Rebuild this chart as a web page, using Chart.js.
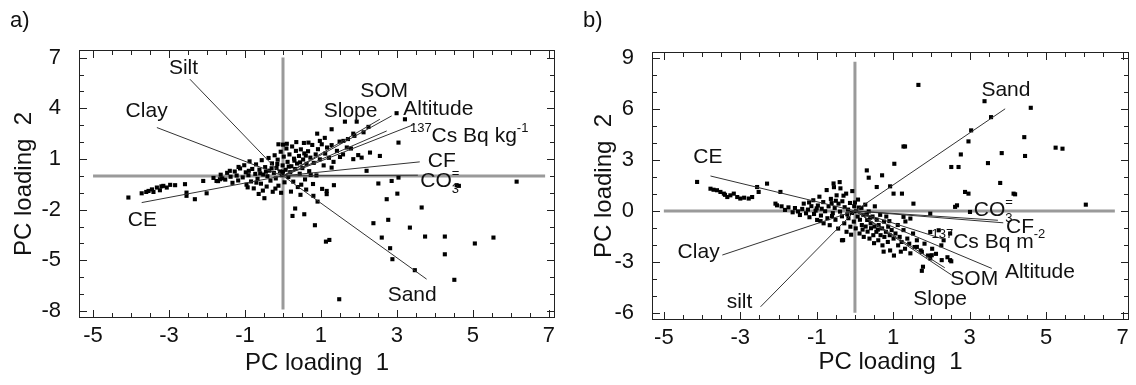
<!DOCTYPE html>
<html>
<head>
<meta charset="utf-8">
<script src="https://cdn.jsdelivr.net/npm/chart.js@4.4.0/dist/chart.umd.min.js"></script>
<style>
  body { margin: 0; background: #fff; }
  #wrap { position: relative; width: 1136px; height: 385px; }
  .panel { position: absolute; top: 0; width: 568px; height: 385px; }
  .tag { position: absolute; top: 7px; font: 22px "Liberation Sans", Arial, sans-serif; color: #111; }
</style>
</head>
<body>
<div id="wrap">
  <div class="panel" style="left:0"><canvas id="chartA" width="568" height="385"></canvas></div>
  <div class="panel" style="left:568px"><canvas id="chartB" width="568" height="385"></canvas></div>
  <div class="tag" style="left:10px">a)</div>
  <div class="tag" style="left:583px">b)</div>
</div>
<script>
// tick labels
const xTicks = [-5, -3, -1, 1, 3, 5, 7];
const yTicksA = [7, 4, 1, -2, -5, -8];
const yTicksB = [9, 6, 3, 0, -3, -6];

// variable names and loading vectors (tips), panel a / b
const variablesA = ["Silt", "Clay", "CE", "Sand", "CO3=", "CF", "137Cs Bq kg-1", "Altitude", "SOM", "Slope"];
const loadingsA = [[-2.45, 5.72], [-3.32, 2.86], [-3.72, -1.58], [3.78, -6.11], [3.55, 0.04], [3.6, 0.83], [3.47, 3.06], [2.86, 3.55], [2.73, 2.66], [2.55, 3.35]];
const labelAtA = [[-2.62, 6.37], [-3.59, 3.85], [-3.7, -2.6], [3.4, -7.04], [4.13, -0.3], [4.18, 0.86], [4.9, 2.37], [4.09, 3.95], [2.66, 5.03], [1.78, 3.85]];

const variablesB = ["Sand", "CE", "Clay", "silt", "CO3=", "CF", "137Cs Bq m-2", "Altitude", "SOM", "Slope"];
const loadingsB = [[3.93, 6.02], [-3.78, 2.06], [-3.47, -2.6], [-2.47, -5.65], [3.74, -0.55], [3.88, -0.7], [2.27, -1.63], [3.58, -3.39], [2.53, -3.78], [2.35, -3.35]];
const labelAtB = [[3.95, 7.1], [-3.85, 3.18], [-4.09, -2.41], [-3.02, -5.39], [3.62, 0.04], [4.32, -0.94], [3.49, -1.82], [4.84, -3.63], [3.12, -4.02], [2.23, -5.2]];

// zero reference lines [from, to]
const hLineA = [-5, 6.9], vLineA = [7, -7.9];
const hLineB = [-5, 6.8], vLineB = [8.8, -6];

// PC scores, panel a
const scoresA = [
  [-4.07, -1.28], [-3.72, -1.03], [-3.54, -0.89], [-3.32, -0.69], [-3.15, -0.59], [-2.97, -0.53], [-2.84, -0.55],
  [-3.24, -0.85], [-3.41, -0.95], [-3.06, -0.69], [-3.6, -0.95], [-3.45, -0.8], [-3.2, -0.62], [-2.58, -0.49],
  [-2.54, -0.99], [-2.54, -1.18], [-2.32, -1.38], [-2.01, -1.03], [-2.1, -0.3], [-1.75, -0.3], [-1.66, -0.2],
  [-0.12, 1.87], [0.67, 1.97], [0.97, 2.07], [1.28, 2.76], [1.63, 3.21], [1.94, 3.21], [1.85, 2.5], [2.25, 2.9],
  [2.99, 3.71], [3.21, 3.35], [3.04, 1.97], [2.29, 1.38], [2.55, 1.18], [1.59, 2.07], [1.68, 1.68], [1.5, 1.12],
  [1.85, 0.99], [2.07, 1.08], [2.2, 0.3], [1.28, 0.49], [2.51, -0.45], [2.86, -0.3], [3.04, -0.1], [3.01, -1.05],
  [2.73, -1.38], [3.65, -1.87], [3.34, -3.06], [2.77, -2.6], [2.38, -2.8], [2.6, -3.65], [2.82, -4.28], [2.88, -4.93],
  [3.74, -3.59], [4.26, -3.59], [4.26, -4.64], [3.47, -5.58], [4.51, -6.15], [5.05, -4.0], [5.54, -3.65],
  [4.57, -0.55], [4.63, -0.59], [6.15, -0.34], [1.48, -7.3], [1.13, -3.89], [1.22, -3.79], [0.84, -2.92],
  [0.56, -2.27], [0.32, -1.93], [0.25, -2.37], [0.91, -1.52], [0.8, -1.18], [1.15, -1.08], [1.15, -0.89], [1.34, -0.55],
  [-1.83, -0.12], [-1.71, -0.31], [-1.64, 0.07], [-1.52, -0.22], [-1.47, 0.18], [-1.38, -0.05], [-1.33, -0.41],
  [-1.27, 0.26], [-1.22, 0.02], [-1.18, -0.27], [-1.13, 0.44], [-1.06, -0.09], [-1.02, 0.63], [-0.98, 0.21],
  [-0.96, -0.52], [-0.91, 0.04], [-0.88, 0.86], [-0.84, -0.33], [-0.81, 0.41], [-0.77, -0.74], [-0.73, 0.12],
  [-0.71, 0.68], [-0.67, -0.18], [-0.64, -1.07], [-0.62, 0.37], [-0.58, -0.46], [-0.56, 0.93], [-0.52, 0.08],
  [-0.49, -1.32], [-0.47, 0.52], [-0.43, -0.63], [-0.41, -0.02], [-0.38, 1.06], [-0.36, 0.31], [-0.33, -0.28],
  [-0.29, 0.74], [-0.27, -0.94], [-0.24, 0.18], [-0.22, 1.22], [-0.19, -0.15], [-0.17, 0.47], [-0.14, 0.96],
  [-0.12, -0.58], [-0.08, 0.26], [-0.06, 1.43], [-0.03, 0.04], [-0.01, 0.62], [0.02, 1.14], [0.04, -0.38],
  [0.07, 0.36], [0.09, 1.62], [0.12, 0.83], [0.14, -0.07], [0.17, 1.27], [0.19, 0.22], [0.22, 0.57], [0.24, 1.74],
  [0.27, -0.34], [0.29, 1.02], [0.32, 0.41], [0.34, 1.48], [0.37, 0.73], [0.39, -0.66], [0.42, 1.18], [0.44, 0.13],
  [0.47, 1.57], [0.51, 0.46], [0.53, 0.97], [0.56, 1.33], [0.58, -0.21], [0.62, 0.71], [0.66, 1.46], [0.69, 0.28],
  [0.72, 1.08], [0.77, 1.83], [0.81, 0.77], [0.86, 1.27], [0.88, 0.03], [0.92, 1.58], [0.97, 0.98], [1.02, 1.87],
  [1.07, 0.62], [1.11, 1.32], [1.16, 1.68], [1.21, 1.07], [1.28, 1.82], [1.33, 0.83], [1.42, 1.48], [1.49, 2.03],
  [1.58, 1.27], [1.71, 2.18], [1.79, 1.62], [1.88, 2.37], [1.98, 1.23], [2.12, 2.58], [-1.17, 0.53], [-0.53, -0.87],
  [-0.93, -0.68], [0.48, -0.52], [0.21, -0.93], [0.79, -0.48], [0.61, -0.81], [1.03, -0.77], [0.46, -1.12], [0.73, 0.06],
  [-0.9, 0.3], [-0.6, 0.15], [-0.3, 0.45], [0.0, 0.25], [0.3, 0.9], [0.6, 1.2], [-0.45, 0.25], [-0.15, 0.7],
  [0.15, 0.55], [0.45, 0.8], [-1.4, 0.3], [-1.6, -0.15], [-0.7, -0.4], [-0.2, -0.75], [0.1, 1.9], [0.35, 2.0],
  [-0.05, -1.0], [0.55, 1.95], [1.1, 2.25], [0.9, 2.5], [0.0, 1.85]
];

// PC scores, panel b
const scoresB = [
  [1.66, 7.43], [3.39, 6.47], [4.6, 6.08], [3.56, 5.53], [3.04, 4.75], [2.97, 4.1], [4.43, 4.35], [4.45, 3.24],
  [5.25, 3.73], [5.43, 3.67], [3.84, 3.41], [3.48, 2.82], [2.77, 3.33], [2.52, 2.59], [2.71, 2.59], [3.8, 1.65],
  [4.15, 1.02], [4.19, 0.98], [2.88, 1.12], [2.97, 1.02], [2.67, 0.33], [2.62, 0.24], [3.01, -0.06], [6.04, 0.37],
  [1.27, 3.8], [1.31, 3.8], [1.03, 2.78], [0.31, 2.39], [0.36, 1.96], [0.71, 2.1], [0.92, 1.45], [0.57, 1.41],
  [1.01, 1.02], [1.23, 1.02], [1.53, 0.43], [1.97, -0.16], [1.45, -0.45], [1.27, -0.35], [1.97, -1.24], [2.19, -1.14],
  [2.49, -1.33], [2.32, -1.73], [2.49, -2.9], [2.27, -2.9], [1.97, -2.8], [1.75, -2.41], [1.78, -3.29], [1.75, -3.53],
  [2.01, -2.61], [1.62, -2.12], [-0.34, -1.73],
  [-4.13, 1.71], [-3.78, 1.31], [-3.61, 1.22], [-3.43, 1.02], [-3.26, 0.92], [-3.08, 0.82], [-3.34, 0.82], [-3.52, 1.12],
  [-3.17, 1.02], [-2.78, 0.73], [-2.69, 0.82], [-3.0, 0.73], [-2.56, 1.41], [-2.3, 1.61], [-2.52, 1.12], [-1.95, 1.12],
  [-2.08, 0.43], [-2.04, 0.33], [-3.7, 1.25], [-3.4, 0.95], [-2.9, 0.78],
  [-1.92, 0.27], [-1.83, 0.06], [-1.74, 0.21], [-1.63, -0.08], [-1.57, 0.17], [-1.49, -0.03], [-1.44, -0.24],
  [-1.38, 0.12], [-1.34, 0.43], [-1.28, -0.14], [-1.23, 0.08], [-1.19, -0.37], [-1.14, 0.28], [-1.09, 0.63],
  [-1.07, -0.18], [-1.03, 0.02], [-0.99, -0.53], [-0.97, 0.32], [-0.93, 0.84], [-0.89, -0.27], [-0.87, 0.13],
  [-0.83, 0.52], [-0.82, -0.73], [-0.78, -0.02], [-0.74, 1.23], [-0.72, -0.43], [-0.69, 0.27], [-0.66, -0.84],
  [-0.63, 0.71], [-0.58, -0.13], [-0.56, 1.62], [-0.53, 0.18], [-0.51, -0.52], [-0.48, 0.92], [-0.44, -1.04],
  [-0.43, 0.43], [-0.39, -0.04], [-0.38, 1.33], [-0.34, -0.32], [-0.33, 0.57], [-0.28, -0.73], [-0.27, 0.22],
  [-0.23, 1.02], [-0.22, -1.23], [-0.18, 0.08], [-0.17, -0.43], [-0.13, 0.47], [-0.12, -0.93], [-0.08, -0.12],
  [-0.07, 1.17], [-0.03, -0.63], [-0.02, 0.28], [0.02, -1.03], [0.03, -0.02], [0.07, -0.33], [0.08, 0.67],
  [0.12, -1.33], [0.13, -0.52], [0.17, 0.18], [0.18, -0.83], [0.22, -0.23], [0.23, -1.53], [0.27, 0.37],
  [0.28, -0.92], [0.32, -0.53], [0.33, -1.22], [0.36, -0.03], [0.38, -1.63], [0.41, -0.73], [0.42, -1.02],
  [0.46, -0.33], [0.48, -1.43], [0.51, -0.92], [0.52, 0.27], [0.56, -1.23], [0.57, -0.52], [0.61, -1.73],
  [0.62, -0.83], [0.66, -0.23], [0.67, -1.43], [0.71, -1.03], [0.72, -2.03], [0.76, -0.63], [0.77, -1.53],
  [0.81, -1.23], [0.82, -0.33], [0.86, -1.83], [0.87, -0.93], [0.91, -1.43], [0.92, -2.33], [0.96, -1.13],
  [1.01, -1.63], [1.02, -2.63], [1.06, -1.33], [1.12, -0.83], [1.13, -2.03], [1.17, -1.53], [1.22, -1.83],
  [1.27, -1.13], [1.31, -2.23], [1.37, -1.63], [1.42, -1.93], [1.52, -1.33], [1.56, -2.13], [1.62, -1.73],
  [1.72, -2.33], [1.82, -1.93], [1.91, -2.63], [2.02, -2.23], [2.12, -2.53], [2.26, -2.03], [2.42, -2.73],
  [2.52, -2.97], [0.31, -0.21], [-0.61, 0.46], [1.32, -0.62], [-0.31, -1.72],
  [-1.2, 0.5], [-0.9, -0.6], [-0.5, 0.6], [-0.2, -0.2], [0.1, 0.2], [0.4, -0.4], [0.6, -1.1], [0.9, -0.6],
  [-0.6, -0.3], [-1.0, 0.15], [-0.3, 0.9], [0.2, -1.1], [0.5, -1.9], [1.2, -2.4], [0.0, 0.5], [-0.1, -1.4],
  [0.75, -2.4], [1.45, -2.5], [-0.4, 1.7], [-0.55, 1.4]
];

const FONT = '"Liberation Sans", Arial, sans-serif';
const INK = "#111";

function labelParts(name) {
  if (name === "CO3=") return [{ t: "CO" }, { sub: "3", sup: "=" }];
  const m = name.match(/^137Cs Bq (kg|m)(-\d)$/);
  if (m) return [{ t: "137", sup: true }, { t: "Cs Bq " + m[1] }, { t: m[2], sup: true }];
  return [{ t: name }];
}

function drawRich(ctx, parts, cx, cy) {
  const big = "21px " + FONT;
  const small = "13px " + FONT;
  const widths = parts.map((p) => {
    if (p.sub !== undefined) {
      ctx.font = small;
      return Math.max(ctx.measureText(p.sub).width, ctx.measureText(p.sup).width);
    }
    ctx.font = p.sup ? small : big;
    return ctx.measureText(p.t).width;
  });
  let x = cx - widths.reduce((a, b) => a + b, 0) / 2;
  ctx.textBaseline = "middle";
  ctx.textAlign = "left";
  parts.forEach((p, i) => {
    if (p.sub !== undefined) {
      ctx.font = small;
      ctx.fillText(p.sub, x, cy + 8);
      ctx.fillText(p.sup, x, cy - 8);
    } else if (p.sup) {
      ctx.font = small;
      ctx.fillText(p.t, x, cy - 7);
    } else {
      ctx.font = big;
      ctx.fillText(p.t, x, cy);
    }
    x += widths[i];
  });
}

// frame with inward ticks on all four sides, plus vector labels
const framePlugin = {
  id: "frameTicks",
  afterDraw(chart) {
    const { ctx, chartArea: a, scales } = chart;
    const sx = scales.x, sy = scales.y;
    ctx.save();
    ctx.strokeStyle = "#222";
    ctx.lineWidth = 1;
    ctx.strokeRect(Math.round(a.left) + 0.5, Math.round(a.top) + 0.5,
      Math.round(a.right - a.left) - 1, Math.round(a.bottom - a.top) - 1);
    ctx.beginPath();
    const majorX = chart.options.plugins.frameTicks.xMajor;
    const majorY = chart.options.plugins.frameTicks.yMajor;
    for (let v = Math.ceil(sx.min * 2) / 2; v <= sx.max; v += 0.5) {
      const px = Math.round(sx.getPixelForValue(v)) + 0.5;
      const len = majorX.includes(v) ? 8 : 5;
      ctx.moveTo(px, a.bottom); ctx.lineTo(px, a.bottom - len);
      ctx.moveTo(px, a.top); ctx.lineTo(px, a.top + len);
    }
    for (let v = Math.ceil(sy.min); v <= sy.max; v += 1) {
      const py = Math.round(sy.getPixelForValue(v)) + 0.5;
      const len = majorY.includes(v) ? 8 : 5;
      ctx.moveTo(a.left, py); ctx.lineTo(a.left + len, py);
      ctx.moveTo(a.right, py); ctx.lineTo(a.right - len, py);
    }
    ctx.stroke();

    const { names, at } = chart.options.plugins.frameTicks;
    ctx.fillStyle = INK;
    names.forEach((n, i) => {
      drawRich(ctx, labelParts(n), sx.getPixelForValue(at[i][0]), sy.getPixelForValue(at[i][1]));
    });
    ctx.restore();
  }
};

function makeChart(id, cfg) {
  const pts = cfg.scores.map((p) => ({ x: p[0], y: p[1] }));
  const datasets = [
    {
      data: [{ x: cfg.hLine[0], y: 0 }, { x: cfg.hLine[1], y: 0 }],
      showLine: true, borderColor: "#9a9a9a", borderWidth: 3, pointRadius: 0, order: 3
    },
    {
      data: [{ x: 0, y: cfg.vLine[0] }, { x: 0, y: cfg.vLine[1] }],
      showLine: true, borderColor: "#9a9a9a", borderWidth: 3, pointRadius: 0, order: 3
    },
    {
      data: pts, pointStyle: "rect", pointRadius: 2.9, backgroundColor: "#000",
      borderWidth: 0, order: 2
    }
  ];
  cfg.loadings.forEach((t) => {
    datasets.push({
      data: [{ x: 0, y: 0 }, { x: t[0], y: t[1] }],
      showLine: true, borderColor: "#333", borderWidth: 1, pointRadius: 0, order: 1
    });
  });

  const tickFont = { family: FONT, size: 22 };
  const titleFont = { family: FONT, size: 24 };

  return new Chart(document.getElementById(id), {
    type: "scatter",
    data: { datasets },
    plugins: [framePlugin],
    options: {
      responsive: false,
      animation: false,
      layout: { padding: cfg.padding },
      plugins: {
        legend: { display: false },
        tooltip: { enabled: false },
        frameTicks: { xMajor: xTicks, yMajor: cfg.yTicks, names: cfg.names, at: cfg.labelAt }
      },
      scales: {
        x: {
          min: cfg.xRange[0], max: cfg.xRange[1],
          grid: { display: false }, border: { display: false },
          afterBuildTicks: (s) => { s.ticks = xTicks.map((v) => ({ value: v })); },
          afterFit: (s) => { s.height = cfg.xAxisH; s.paddingLeft = 0; s.paddingRight = 0; },
          ticks: { font: tickFont, color: INK, padding: -3, maxRotation: 0, autoSkip: false },
          title: { display: true, text: "PC loading  1", font: titleFont, color: INK, padding: { top: 0, bottom: cfg.xTitlePad } }
        },
        y: {
          min: cfg.yRange[0], max: cfg.yRange[1],
          grid: { display: false }, border: { display: false },
          afterBuildTicks: (s) => { s.ticks = cfg.yTicks.map((v) => ({ value: v })); },
          afterFit: (s) => { s.width = cfg.yAxisW; s.paddingTop = 0; s.paddingBottom = 0; },
          ticks: { font: tickFont, color: INK, padding: 10, autoSkip: false },
          title: { display: true, text: "PC loading  2", font: titleFont, color: INK, padding: { top: cfg.yTitlePad, bottom: 0 } }
        }
      }
    }
  });
}

makeChart("chartA", {
  scores: scoresA, loadings: loadingsA, names: variablesA, labelAt: labelAtA,
  hLine: hLineA, vLine: vLineA, yTicks: yTicksA,
  xRange: [-5.37, 7.16], yRange: [-8.41, 7.45],
  padding: { left: 0, right: 13, top: 50, bottom: 0 },
  xAxisH: 67, yAxisW: 79, xTitlePad: 7, yTitlePad: 10
});

makeChart("chartB", {
  scores: scoresB, loadings: loadingsB, names: variablesB, labelAt: labelAtB,
  hLine: hLineB, vLine: vLineB, yTicks: yTicksB,
  xRange: [-5.31, 7.17], yRange: [-6.43, 9.37],
  padding: { left: 0, right: 7, top: 52, bottom: 0 },
  xAxisH: 65, yAxisW: 84, xTitlePad: 8, yTitlePad: 22
});
</script>
</body>
</html>
